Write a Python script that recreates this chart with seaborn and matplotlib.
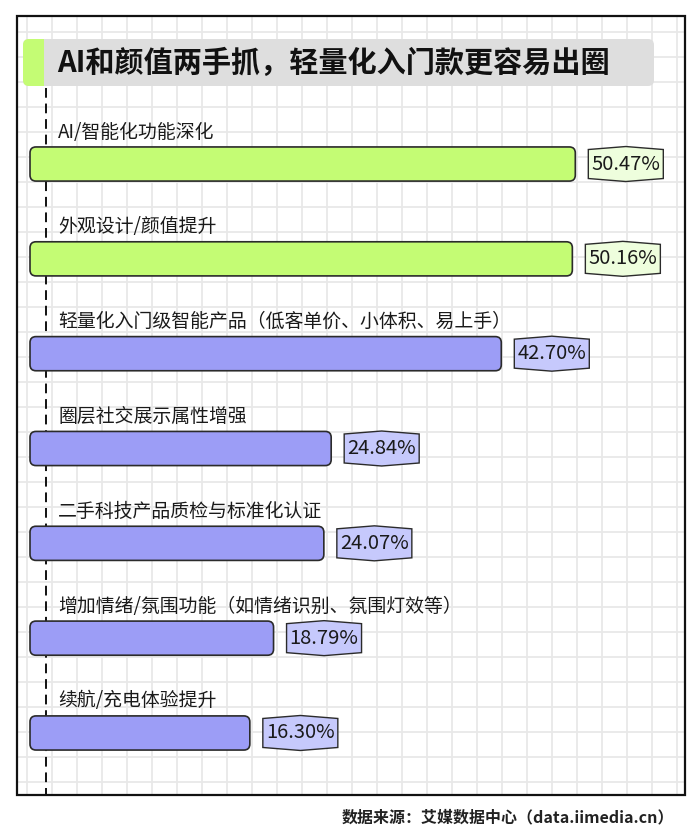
import numpy as np
import pandas as pd
import matplotlib
matplotlib.use("Agg")
import matplotlib.pyplot as plt
import matplotlib.patches as mpatches
import matplotlib.transforms as mtransforms
import seaborn as sns

# ---------------- data ----------------
categories = [
    "AI/智能化功能深化",
    "外观设计/颜值提升",
    "轻量化入门级智能产品（低客单价、小体积、易上手）",
    "圈层社交展示属性增强",
    "二手科技产品质检与标准化认证",
    "增加情绪/氛围功能（如情绪识别、氛围灯效等）",
    "续航/充电体验提升",
]
values = [50.47, 50.16, 42.70, 24.84, 24.07, 18.79, 16.30]
highlight = [True, True, False, False, False, False, False]
title = "AI和颜值两手抓，轻量化入门款更容易出圈"
source = "数据来源：艾媒数据中心（data.iimedia.cn）"

# ---------------- style ----------------
sns.set_style("white")
plt.rcParams['font.family'] = ['Noto Sans CJK SC', 'DejaVu Sans']

GREEN = "#c4fc74"
PURPLE = "#9c9df6"
GREEN_L = "#eefedd"
PURPLE_L = "#c6c9fc"
EDGE = "#2b2b2b"

W, H = 700, 834
fig = plt.figure(figsize=(W / 100, H / 100), dpi=100)

# background (pixel coordinates, y downward)
bg = fig.add_axes([0, 0, 1, 1])
bg.set_xlim(0, W)
bg.set_ylim(H, 0)
bg.axis("off")

FL, FR, FT, FB = 17, 685, 16, 795
for gx in np.arange(27, FR, 25):
    bg.plot([gx, gx], [FT, FB], color="#e8e8e8", lw=1.3, zorder=0)
for gy in np.arange(32, FB, 25):
    bg.plot([FL, FR], [gy, gy], color="#e8e8e8", lw=1.3, zorder=0)
bg.add_patch(mpatches.Rectangle((FL, FT), FR - FL, FB - FT, fill=False,
                                edgecolor="#111111", lw=1.6, zorder=5))

# title box
tbox = mpatches.FancyBboxPatch((23, 39), 631, 47,
                               boxstyle="round,pad=0,rounding_size=6",
                               facecolor="#dedede", edgecolor="none", zorder=2)
bg.add_patch(tbox)
strip = mpatches.Rectangle((23, 39), 21, 47, facecolor=GREEN, edgecolor="none", zorder=3)
bg.add_patch(strip)
strip.set_clip_path(tbox)
bg.text(57, 63, title, fontsize=21, fontweight="bold", color="#111111",
        va="center", ha="left", zorder=4)

# dashed axis line
bg.plot([46, 46], [88, FB], color="#111111", lw=1.4, ls=(0, (5, 3)), zorder=1)

# source
bg.text(674, 817, source, fontsize=11.5, fontweight="bold", color="#222222",
        ha="right", va="center")

# ---------------- data axes ----------------
px_per_x = 9.525
px_per_y = 94.8
x_base = -6.78                      # data value where bars start (pixel 30)
ax_left_px, ax_right_px = FL, FR
ax_top_px, ax_bot_px = 90, 796
xlim_left = x_base - (30 - ax_left_px) / px_per_x
xlim_right = xlim_left + (ax_right_px - ax_left_px) / px_per_x
ylim_top = -(164 - ax_top_px) / px_per_y
ylim_bot = 6 + (ax_bot_px - 733) / px_per_y

ax = fig.add_axes([ax_left_px / W, 1 - ax_bot_px / H,
                   (ax_right_px - ax_left_px) / W, (ax_bot_px - ax_top_px) / H])
ax.patch.set_alpha(0)

df = pd.DataFrame({"category": categories, "value": values})
palette = {c: (GREEN if h else PURPLE) for c, h in zip(categories, highlight)}
sns.barplot(data=df, x="value", y="category", hue="category", palette=palette,
            orient="h", width=0.36, saturation=1, legend=False, ax=ax)

ax.set_xlim(xlim_left, xlim_right)
ax.set_ylim(ylim_bot, ylim_top)
ax.axis("off")

aspect = px_per_x / px_per_y
rad = 6 / px_per_x
bars = sorted(ax.patches, key=lambda p: p.get_y())
for bar, h, v, cat in zip(bars, highlight, values, categories):
    bx, by, bw, bh = bar.get_x(), bar.get_y(), bar.get_width(), bar.get_height()
    bar.set_visible(False)
    col = bar.get_facecolor()
    rb = mpatches.FancyBboxPatch((x_base, by), bx + bw - x_base, bh,
                                 boxstyle=f"round,pad=0,rounding_size={rad}",
                                 mutation_aspect=aspect,
                                 facecolor=col, edgecolor=EDGE, lw=1.2, zorder=3)
    ax.add_patch(rb)
    yc = by + bh / 2
    # category label
    ax.text(x_base + 28 / px_per_x, yc - 32 / px_per_y, cat, fontsize=13.6,
            color="#1a1a1a", ha="left", va="center")
    # value tag
    tr = mtransforms.Affine2D() + mtransforms.ScaledTranslation(bx + bw, yc, ax.transData)
    g, w2, hs, hp = 13, 75, 14.5, 17.5
    verts = [(g, -hs), (g, hs), (g + w2 / 2, hp), (g + w2, hs),
             (g + w2, -hs), (g + w2 / 2, -hp)]
    poly = mpatches.Polygon(verts, closed=True, transform=tr,
                            facecolor=(GREEN_L if h else PURPLE_L),
                            edgecolor=EDGE, lw=1.0, zorder=3)
    ax.add_patch(poly)
    ax.text(0, 0, f"{v:.2f}%", transform=mtransforms.Affine2D().translate(g + w2 / 2, 0) + tr,
            fontsize=14.5, color="#1a1a1a", ha="center", va="center", zorder=4)

fig.savefig("out.png", dpi=100)
